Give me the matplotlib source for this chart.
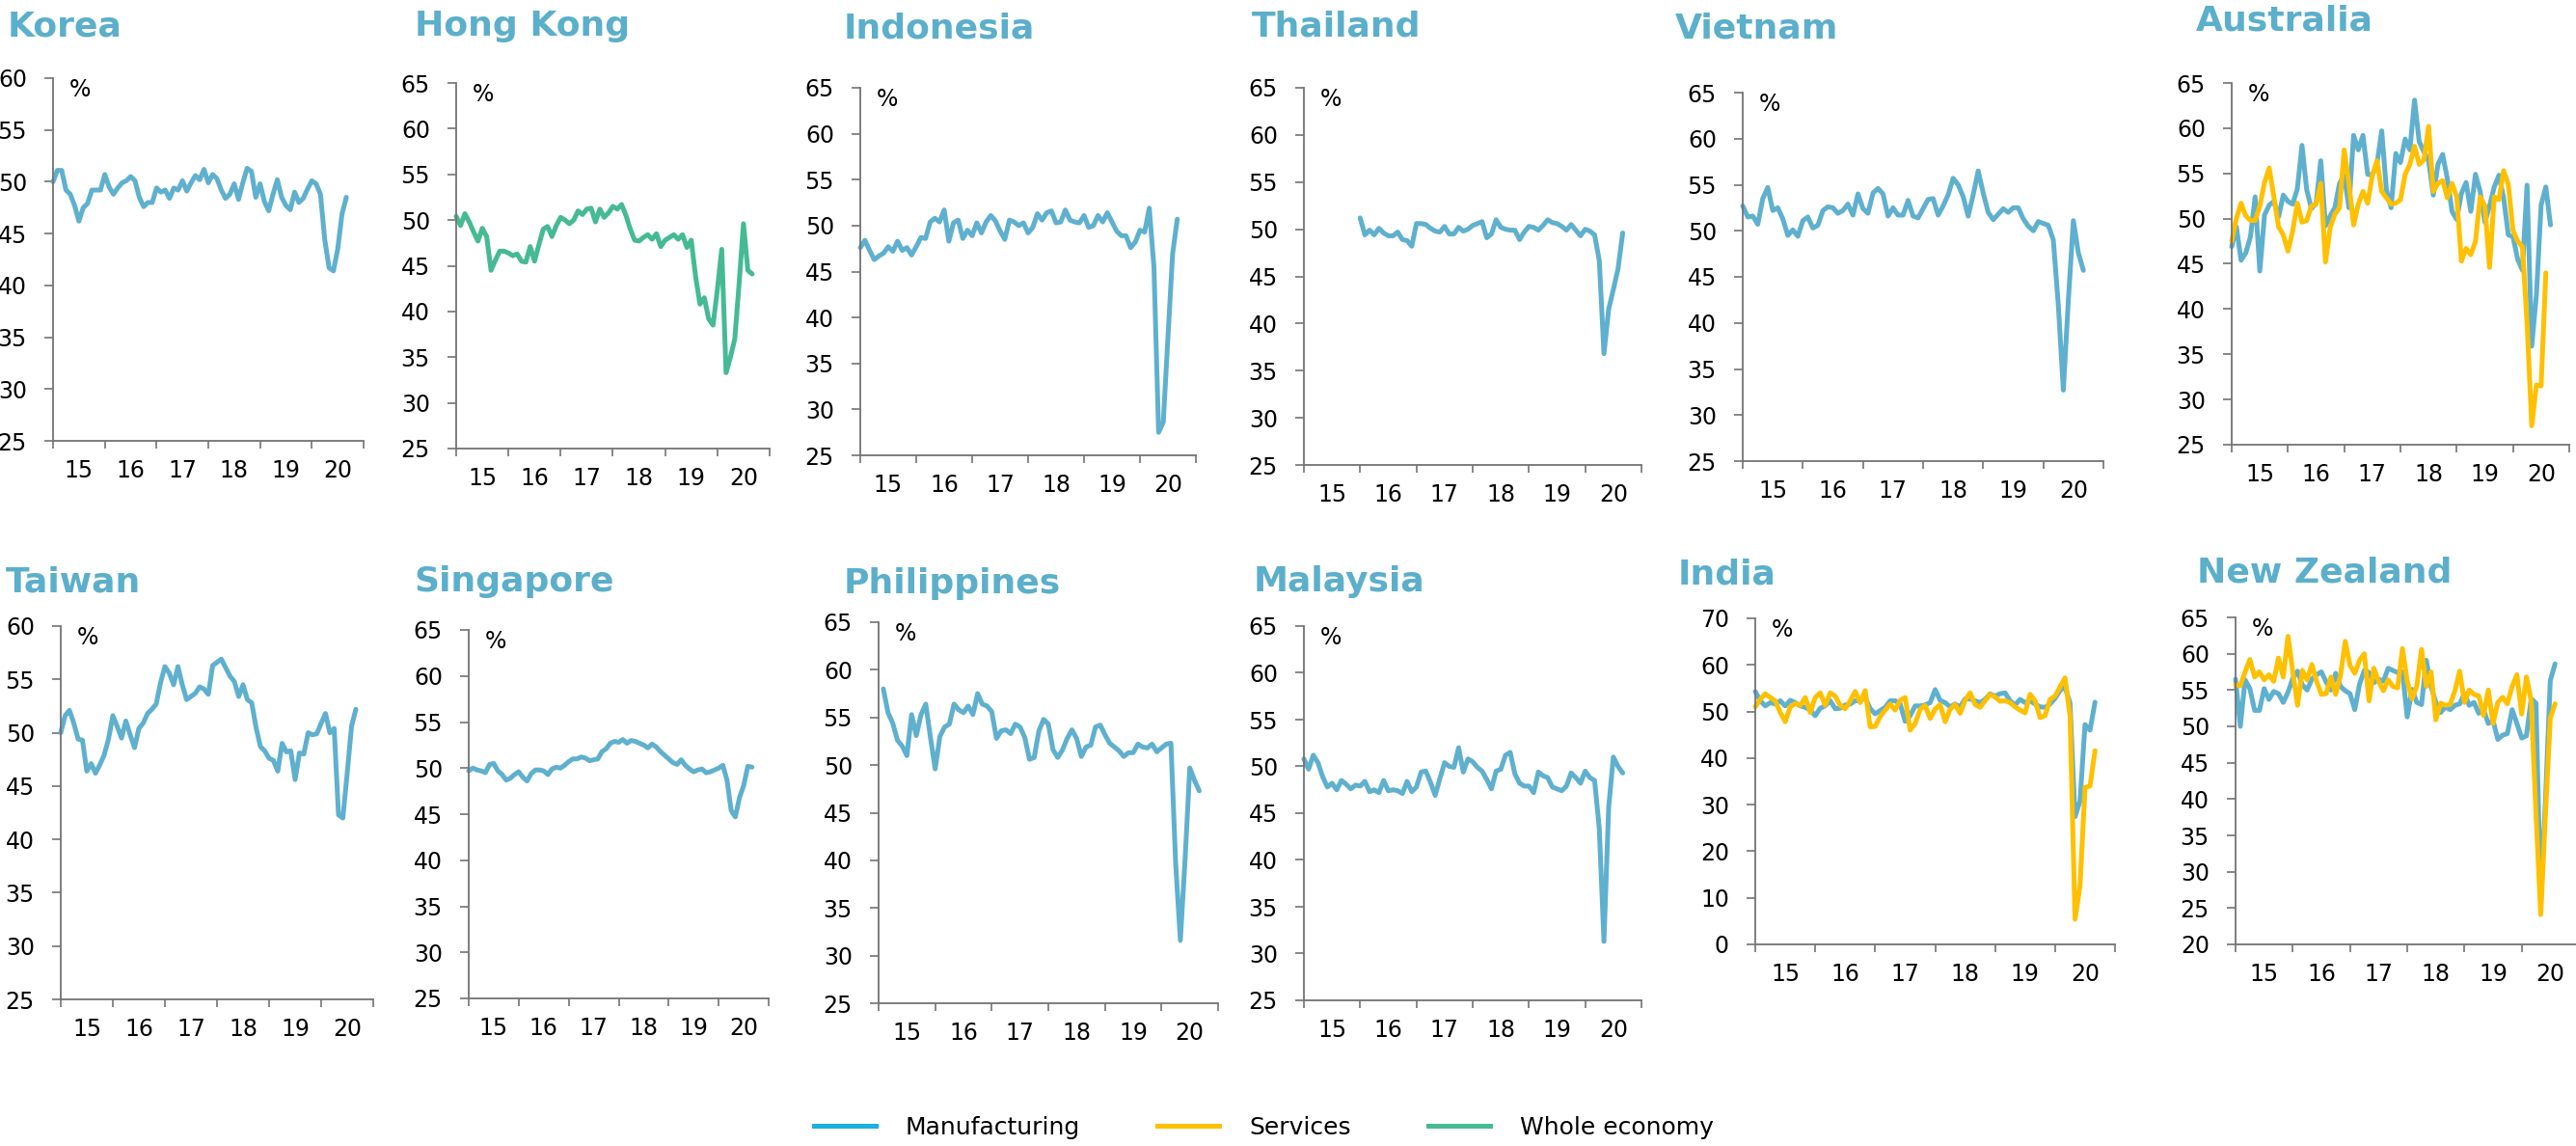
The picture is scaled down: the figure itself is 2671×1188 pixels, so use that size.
import matplotlib.pyplot as plt
from matplotlib.lines import Line2D
import numpy as np

# colours
MANUF = '#5FB0CE'
SERV = '#FFC000'
WHOLE = '#45BA94'
TITLE_C = '#5BAFCB'
AXIS_C = '#737373'

year_labels = ['15', '16', '17', '18', '19', '20']

# PMI readings (monthly), first value = first month shown
korea = [50.0, 51.1, 51.1, 49.2, 48.8, 47.7, 46.2, 47.5, 47.9, 49.2, 49.2, 49.2,
         50.7, 49.5, 48.8, 49.4, 49.9, 50.1, 50.5, 50.1, 48.5, 47.6, 48.0, 48.0,
         49.4, 49.0, 49.2, 48.4, 49.4, 49.2, 50.1, 49.1, 49.9, 50.6, 50.2, 51.2,
         49.9, 50.7, 50.3, 49.2, 48.4, 48.8, 49.8, 48.3, 49.9, 51.3, 51.0, 48.5,
         49.8, 48.1, 47.2, 48.8, 50.2, 48.5, 47.7, 47.3, 49.0, 48.0, 48.4, 49.3,
         50.1, 49.8, 48.8, 44.4, 41.7, 41.4, 43.5, 46.9, 48.5]
hong_kong = [50.4, 49.4, 50.7, 49.8, 48.7, 47.7, 49.1, 48.2, 44.5, 45.6,
             46.6, 46.6, 46.4, 46.1, 46.3, 45.5, 45.4, 47.1, 45.5, 47.3,
             49.0, 49.3, 48.2, 49.4, 50.3, 50.0, 49.6, 50.0, 51.0, 50.6,
             51.2, 51.3, 49.8, 51.2, 50.3, 50.8, 51.5, 51.2, 51.7, 50.5,
             49.0, 47.8, 47.7, 48.1, 48.4, 47.9, 48.5, 47.1, 47.8, 48.1,
             48.4, 47.9, 48.4, 47.0, 47.8, 43.8, 40.8, 41.5, 39.2, 38.5,
             42.4, 46.8, 33.3, 35.0, 37.0, 43.1, 49.6, 44.5, 44.1]
indonesia = [47.6, 48.4, 47.3, 46.3, 46.7, 47.0, 47.7, 47.2, 48.3, 47.3,
             47.6, 46.8, 47.7, 48.7, 48.6, 50.4, 50.8, 50.4, 51.7, 48.3,
             50.3, 50.6, 48.6, 49.5, 48.9, 50.3, 49.2, 50.4, 51.1, 50.5,
             49.4, 48.5, 50.6, 50.4, 50.0, 50.3, 49.2, 49.8, 51.3, 50.6,
             51.4, 51.6, 50.3, 50.4, 51.7, 50.6, 50.4, 50.3, 51.1, 49.8,
             50.0, 51.1, 50.4, 51.4, 50.4, 49.4, 48.9, 48.9, 47.6, 48.2,
             49.5, 49.3, 51.9, 45.5, 27.5, 28.6, 37.8, 46.9, 50.7]
thailand = [51.2, 49.4, 49.9, 49.4, 50.1, 49.6, 49.3, 49.3, 49.7, 48.9,
            48.8, 48.2, 50.6, 50.6, 50.5, 50.1, 49.8, 49.7, 50.3, 49.5,
            49.5, 50.2, 49.8, 50.0, 50.4, 50.6, 50.8, 49.1, 49.5, 51.0,
            50.2, 50.0, 49.9, 49.9, 48.9, 49.7, 50.3, 50.2, 49.9, 50.4,
            51.0, 50.7, 50.6, 50.3, 49.9, 50.5, 49.9, 49.3, 50.0, 49.8,
            49.4, 46.7, 36.8, 41.5, 43.6, 45.8, 49.6]
vietnam = [52.7, 51.5, 51.6, 50.7, 53.5, 54.7, 52.2, 52.5, 51.3, 49.5,
           50.1, 49.4, 51.1, 51.5, 50.3, 50.6, 52.2, 52.6, 52.5, 51.9,
           52.2, 52.9, 51.7, 54.0, 52.4, 51.9, 54.1, 54.6, 54.0, 51.6,
           52.5, 51.7, 51.7, 53.3, 51.6, 51.4, 52.4, 53.4, 53.5, 51.7,
           52.7, 53.9, 55.7, 55.0, 53.7, 51.6, 53.9, 56.5, 54.1, 52.0,
           51.2, 51.8, 52.4, 52.0, 52.5, 52.5, 51.3, 50.5, 50.0, 51.0,
           50.8, 50.6, 49.0, 41.9, 32.7, 42.5, 51.1, 47.6, 45.7]
australia_manuf = [46.9, 49.1, 45.4, 46.2, 48.0, 52.4, 44.2, 50.4, 51.5, 51.9,
                   50.2, 52.6, 51.9, 51.6, 53.3, 58.1, 53.2, 51.1, 51.7, 56.4,
                   49.2, 50.3, 51.2, 53.9, 54.8, 51.2, 59.2, 57.6, 59.2, 54.9,
                   54.8, 56.1, 59.7, 53.2, 51.2, 57.2, 56.2, 58.8, 57.6, 63.1,
                   58.5, 57.4, 56.4, 52.6, 56.0, 57.1, 54.4, 50.8, 49.9, 52.8,
                   54.0, 50.8, 54.9, 53.0, 49.6, 51.4, 53.5, 54.8, 52.3, 48.2,
                   48.0, 45.5, 44.3, 53.7, 35.9, 41.6, 51.5, 53.5, 49.3]
australia_serv = [47.5, 50.0, 51.7, 50.3, 49.8, 49.8, 51.4, 54.0, 55.6, 52.4,
                  49.1, 48.2, 46.4, 48.6, 51.7, 49.6, 49.8, 51.4, 51.6, 53.9,
                  45.2, 49.0, 50.5, 51.2, 57.6, 53.9, 49.3, 51.6, 53.0, 51.7,
                  54.8, 56.4, 53.0, 52.3, 51.6, 51.7, 52.1, 54.9, 56.0, 58.0,
                  56.0, 56.5, 60.2, 53.0, 53.9, 54.2, 52.3, 53.9, 52.4, 45.3,
                  46.7, 46.0, 47.5, 52.4, 51.4, 44.6, 52.4, 52.1, 55.3, 53.8,
                  48.7, 47.5, 46.9, 38.5, 27.1, 31.6, 31.5, 44.0]
taiwan = [50.0, 51.6, 52.1, 50.9, 49.4, 49.3, 46.4, 47.1, 46.2, 47.0,
          47.9, 49.4, 51.6, 50.6, 49.5, 51.1, 49.8, 48.6, 50.4, 50.9,
          51.8, 52.2, 52.7, 54.7, 56.2, 55.6, 54.5, 56.2, 54.5, 53.1,
          53.4, 53.7, 54.3, 54.1, 53.6, 56.3, 56.6, 56.9, 56.1, 55.3,
          54.8, 53.4, 54.5, 53.1, 52.8, 50.5, 48.7, 48.3, 47.6, 47.4,
          46.4, 49.0, 48.2, 48.3, 45.6, 48.1, 48.0, 50.0, 49.8, 49.9,
          50.9, 51.8, 50.0, 50.4, 42.3, 42.0, 46.2, 50.6, 52.2]
singapore = [49.7, 50.0, 49.8, 49.7, 49.5, 50.4, 50.5, 49.7, 49.3, 48.7,
             48.9, 49.3, 49.6, 49.0, 48.6, 49.4, 49.8, 49.8, 49.7, 49.3,
             49.9, 50.1, 50.0, 50.3, 50.7, 51.0, 51.0, 51.2, 51.1, 50.8,
             50.9, 51.0, 51.8, 52.1, 52.7, 52.9, 52.8, 53.1, 52.7, 53.0,
             52.9, 52.7, 52.5, 52.2, 52.6, 52.3, 51.8, 51.4, 51.0, 50.6,
             50.4, 50.9, 50.3, 49.9, 49.6, 49.8, 49.9, 49.5, 49.6, 49.8,
             50.0, 50.3, 48.7, 45.4, 44.7, 46.8, 48.1, 50.2, 50.1]
philippines = [58.0, 55.5, 54.4, 52.6, 52.0, 51.0, 55.3, 53.1, 55.3, 56.4,
               52.9, 49.6, 53.0, 54.0, 54.3, 56.4, 55.8, 55.5, 56.2, 55.3,
               57.5, 56.4, 56.2, 55.6, 52.8, 53.6, 53.7, 53.3, 54.3, 54.0,
               52.9, 50.6, 50.8, 53.6, 54.8, 54.3, 51.6, 50.8, 51.6, 52.8,
               53.7, 52.8, 50.9, 51.9, 52.1, 54.0, 54.2, 53.2, 52.3, 51.9,
               51.5, 50.9, 51.3, 51.3, 52.2, 51.9, 51.8, 52.2, 51.4, 51.8,
               52.2, 52.3, 39.7, 31.6, 40.1, 49.7, 48.4, 47.3]
malaysia = [50.8, 49.7, 51.2, 50.4, 48.9, 47.8, 48.2, 47.5, 48.5, 48.1, 47.6, 48.0,
            47.9, 48.4, 47.3, 47.5, 47.2, 48.5, 47.4, 47.5, 47.4, 47.1, 48.4, 47.3,
            47.8, 49.4, 49.5, 48.3, 46.9, 48.7, 50.4, 50.0, 49.9, 52.0, 49.4, 50.8,
            50.5, 49.9, 49.5, 48.6, 47.6, 49.5, 49.7, 51.2, 51.5, 49.2, 48.2, 47.9,
            47.9, 47.2, 49.4, 49.0, 48.8, 47.8, 47.6, 47.4, 47.9, 49.3, 48.8, 48.2,
            49.5, 48.8, 48.5, 43.4, 31.3, 45.6, 51.0, 50.0, 49.3]
india_manuf = [54.3, 52.3, 51.2, 51.9, 51.6, 52.3, 51.2, 52.4, 51.9, 51.2,
               50.9, 50.3, 49.1, 50.7, 51.2, 52.3, 50.6, 50.7, 51.4, 51.6,
               52.3, 52.3, 53.0, 50.6, 49.5, 50.2, 50.9, 52.3, 52.3, 51.6,
               47.9, 49.1, 51.2, 51.2, 51.4, 51.9, 54.7, 52.4, 51.9, 51.0,
               51.6, 51.0, 52.7, 52.7, 52.3, 51.9, 52.6, 53.8, 53.3, 53.8,
               54.0, 52.3, 51.4, 52.6, 51.9, 52.3, 51.6, 51.0, 50.9, 51.6,
               52.8, 54.5, 55.3, 51.8, 27.4, 30.8, 47.2, 46.0, 52.0]
india_serv = [51.0, 52.6, 53.8, 53.0, 52.3, 49.8, 47.8, 51.0, 51.7, 51.3,
              53.0, 49.8, 53.0, 54.0, 51.3, 54.0, 53.3, 51.3, 50.6, 52.3,
              54.3, 51.9, 54.5, 46.7, 46.8, 48.9, 50.3, 51.6, 50.3, 52.4,
              53.0, 46.0, 47.4, 50.5, 51.3, 48.5, 50.5, 51.5, 47.8, 50.5,
              51.5, 49.6, 52.4, 54.0, 51.5, 50.9, 52.3, 53.7, 53.1, 52.2,
              52.3, 51.9, 51.0, 50.3, 49.7, 53.7, 52.3, 48.7, 49.1, 52.6,
              53.3, 55.3, 57.2, 49.1, 5.4, 12.6, 33.7, 34.0, 41.6]
nz_manuf = [56.5, 50.0, 56.4, 55.2, 52.2, 52.2, 55.2, 53.7, 54.8, 54.5,
            53.3, 54.7, 56.6, 57.6, 55.7, 55.0, 56.5, 57.1, 57.5, 56.1,
            55.0, 57.3, 55.5, 54.9, 54.5, 52.3, 55.8, 57.7, 57.4, 56.0,
            56.5, 56.2, 58.0, 57.7, 57.4, 57.5, 51.3, 55.1, 53.3, 53.0,
            59.1, 55.5, 53.3, 51.9, 52.7, 52.3, 52.9, 53.1, 54.5, 52.9,
            53.3, 51.8, 52.3, 50.4, 50.8, 48.2, 48.8, 49.0, 52.3, 50.4,
            48.4, 48.7, 53.8, 53.2, 25.9, 40.0, 56.3, 58.6]
nz_serv = [55.7, 55.6, 57.5, 59.2, 56.8, 57.5, 56.4, 57.1, 56.2, 59.4,
           56.8, 62.4, 57.5, 52.9, 57.7, 56.4, 58.5, 56.2, 54.4, 54.5,
           56.8, 54.4, 57.0, 61.7, 58.4, 57.3, 59.1, 60.0, 53.5, 58.0,
           56.2, 54.9, 56.4, 55.5, 55.3, 60.7, 56.2, 53.8, 55.5, 60.6,
           55.5, 57.5, 50.9, 53.2, 52.9, 53.0, 54.9, 57.6, 53.3, 55.0,
           54.4, 54.2, 51.5, 55.0, 50.4, 53.3, 54.0, 53.1, 55.5, 57.1,
           51.7, 56.8, 53.5, 38.0, 24.1, 38.0, 51.1, 53.1]

# panel layout in pixels: title (x, baseline), axes box (left, right, top, bottom)
panels = [
    ('Korea', [(korea, 0, MANUF)], (25, 60, 5), (8, 37), (55, 377, 81, 457)),
    ('Hong Kong', [(hong_kong, 0, WHOLE)], (25, 65, 5), (430, 37), (473, 798, 86, 465)),
    ('Indonesia', [(indonesia, 0, MANUF)], (25, 65, 5), (875, 39), (892, 1240, 91, 472)),
    ('Thailand', [(thailand, 12, MANUF)], (25, 65, 5), (1298, 37), (1352, 1702, 91, 482)),
    ('Vietnam', [(vietnam, 0, MANUF)], (25, 65, 5), (1737, 39), (1807, 2181, 96, 478)),
    ('Australia', [(australia_manuf, 0, MANUF), (australia_serv, 0, SERV)],
     (25, 65, 5), (2277, 32), (2314, 2664, 86, 461)),
    ('Taiwan', [(taiwan, 0, MANUF)], (25, 60, 5), (6, 613), (63, 387, 649, 1036)),
    ('Singapore', [(singapore, 0, MANUF)], (25, 65, 5), (429, 613), (486, 797, 653, 1035)),
    ('Philippines', [(philippines, 1, MANUF)], (25, 65, 5), (875, 615), (911, 1263, 645, 1040)),
    ('Malaysia', [(malaysia, 0, MANUF)], (25, 65, 5), (1300, 613), (1352, 1702, 649, 1037)),
    ('India', [(india_manuf, 0, MANUF), (india_serv, 0, SERV)],
     (0, 70, 10), (1740, 605), (1820, 2193, 641, 979)),
    ('New Zealand', [(nz_manuf, 0, MANUF), (nz_serv, 0, SERV)],
     (20, 65, 5), (2278, 603), (2318, 2674, 640, 979)),
]

W, H = 2671, 1188
fig = plt.figure(figsize=(W / 100, H / 100), dpi=100)

for name, series, (ymin, ymax, ystep), (tx, ty), (l, r, t, b) in panels:
    ax = fig.add_axes([l / W, 1 - b / H, (r - l) / W, (b - t) / H])
    for vals, start, col in series:
        x = (start + np.arange(len(vals))) / 12
        ax.plot(x, vals, color=col, lw=3.6, solid_joinstyle='round',
                solid_capstyle='round', clip_on=False)
    ax.set_xlim(0, 6)
    ax.set_ylim(ymin, ymax)
    ax.set_yticks(np.arange(ymin, ymax + 1, ystep))
    ax.set_xticks(np.arange(0, 7))
    ax.set_xticklabels([])
    ax.set_xticks(np.arange(0.5, 6), minor=True)
    ax.set_xticklabels(year_labels, minor=True)
    ax.tick_params(axis='x', which='major', direction='out', length=6,
                   width=1.2, color=AXIS_C)
    ax.tick_params(axis='x', which='minor', length=0, pad=14, labelsize=17)
    ax.tick_params(axis='y', direction='out', length=6.5, width=1.2,
                   color=AXIS_C, pad=13, labelsize=17)
    for s in ('top', 'right'):
        ax.spines[s].set_visible(False)
    for s in ('left', 'bottom'):
        ax.spines[s].set_color(AXIS_C)
        ax.spines[s].set_linewidth(1.3)
    ax.text(17 / (r - l), 1.0, '%', transform=ax.transAxes, fontsize=17,
            ha='left', va='top')
    fig.text(tx / W, 1 - ty / H, name, fontsize=26, fontweight='bold',
             color=TITLE_C, ha='left', va='baseline')

handles = [Line2D([], [], color='#1DAEE5', lw=3.6),
           Line2D([], [], color=SERV, lw=3.6),
           Line2D([], [], color=WHOLE, lw=3.6)]
fig.legend(handles, ['Manufacturing', 'Services', 'Whole economy'],
           loc='center', bbox_to_anchor=(0.4905, 0.016), ncol=3,
           frameon=False, fontsize=18, handlelength=2.56,
           handletextpad=1.24, columnspacing=3.2)

fig.savefig('out.png', dpi=100)
